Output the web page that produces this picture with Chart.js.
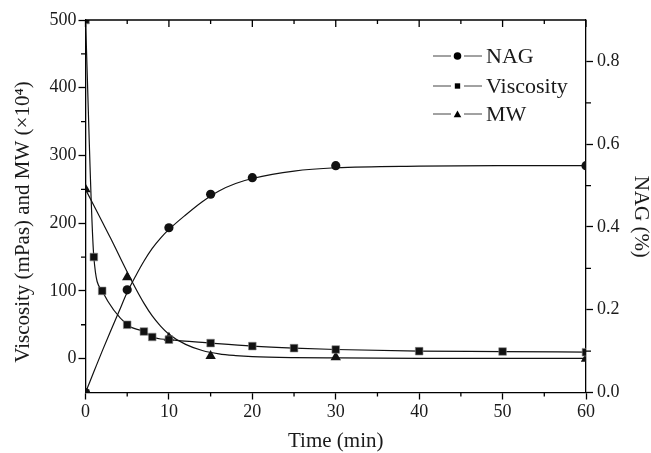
<!DOCTYPE html>
<html>
<head>
<meta charset="utf-8">
<script src="https://cdn.jsdelivr.net/npm/chart.js@4/dist/chart.umd.min.js"></script>
<style>
  html, body { margin: 0; padding: 0; background: #fff; }
  #wrap { width: 651px; height: 453px; position: relative; }
</style>
</head>
<body>
<div id="wrap"><canvas id="c"></canvas></div>
<script>
// ---- data ----
const timeNAG = [0, 5, 10, 15, 20, 30, 60];
const nagValues = [0, 0.248, 0.398, 0.479, 0.519, 0.548, 0.548];

const timeVisc = [0, 1, 2, 5, 7, 8, 10, 15, 20, 25, 30, 40, 50, 60];
const viscValues = [500, 150, 100, 50, 40, 32, 28, 23, 18.5, 15.5, 13.5, 11, 10.5, 9.5];

const timeMW = [0, 5, 10, 15, 30, 60];
const mwValues = [250, 120, 31, 4, 2, 0];

// fitted curves
const nagFitTime = [0, 1, 2, 3, 4, 5, 6, 7, 8, 9, 10, 12, 14, 16, 18, 20, 25, 30, 40, 50, 60];
const nagFitValues = [0, 0.05, 0.1, 0.148, 0.195, 0.242, 0.281, 0.317, 0.348, 0.373, 0.394, 0.429, 0.461, 0.487, 0.505, 0.517, 0.535, 0.543, 0.547, 0.548, 0.548];

const mwFitTime = [0, 1, 2, 3, 4, 5, 6, 7, 8, 9, 10, 12, 14, 16, 18, 20, 25, 30, 40, 60];
const mwFitValues = [250, 226, 202, 178, 153, 128, 104, 82, 63, 48, 36, 21, 12, 7, 4.5, 3, 1.5, 1, 0.5, 0.5];

const xTickLabels = ['0', '10', '20', '30', '40', '50', '60'];
const leftTickLabels = ['0', '100', '200', '300', '400', '500'];
const rightTickLabels = ['0.0', '0.2', '0.4', '0.6', '0.8'];

const seriesNames = ['NAG', 'Viscosity', 'MW'];
const xTitle = 'Time (min)';
const leftTitle = 'Viscosity (mPas) and MW (\u00D710\u2074)';
const rightTitle = 'NAG (%)';

// ---- helpers ----
const zip = (xs, ys) => xs.map((x, i) => ({ x: x, y: ys[i] }));
const FONT = '"Liberation Serif", "Times New Roman", serif';
const INK = '#1a1a1a';

const isMajorX = v => Math.abs(v % 10) < 1e-9;
const isMajorY = v => v >= 0 && Math.abs(v % 100) < 1e-9;
const isMajorY2 = v => { const k = Math.round(v * 10); return k % 2 === 0 && k <= 8; };

function drawMarker(ctx, style, x, y, r) {
  ctx.beginPath();
  if (style === 'circle') {
    ctx.arc(x, y, r, 0, Math.PI * 2);
  } else if (style === 'rect') {
    const s = r * Math.SQRT1_2;
    ctx.rect(x - s, y - s, 2 * s, 2 * s);
  } else if (style === 'triangle') {
    for (let k = 0; k < 3; k++) {
      const a = k * 2 * Math.PI / 3;
      const px = x + Math.sin(a) * r, py = y - Math.cos(a) * r;
      if (k === 0) ctx.moveTo(px, py); else ctx.lineTo(px, py);
    }
    ctx.closePath();
  }
  ctx.fill();
}

const framePlugin = {
  id: 'frame',
  afterDraw(chart) {
    const ctx = chart.ctx, a = chart.chartArea;
    const xs = chart.scales.x, ys = chart.scales.y, y2 = chart.scales.y2;
    ctx.save();
    ctx.strokeStyle = '#000';
    ctx.lineWidth = 1.3;
    ctx.beginPath();
    // top frame line with inward mirrored ticks
    ctx.moveTo(a.left, a.top);
    ctx.lineTo(a.right, a.top);
    xs.ticks.forEach(t => {
      const px = xs.getPixelForValue(t.value);
      const len = isMajorX(t.value) ? 7 : 4;
      ctx.moveTo(px, a.top);
      ctx.lineTo(px, a.top + len);
    });
    // minor outward ticks
    xs.ticks.forEach(t => {
      if (isMajorX(t.value)) return;
      const px = xs.getPixelForValue(t.value);
      ctx.moveTo(px, a.bottom);
      ctx.lineTo(px, a.bottom + 4);
    });
    ys.ticks.forEach(t => {
      if (isMajorY(t.value) || t.value <= -50) return;
      const py = ys.getPixelForValue(t.value);
      ctx.moveTo(a.left, py);
      ctx.lineTo(a.left - 4.5, py);
    });
    y2.ticks.forEach(t => {
      if (isMajorY2(t.value) || t.value > 0.85) return;
      const py = y2.getPixelForValue(t.value);
      ctx.moveTo(a.right, py);
      ctx.lineTo(a.right + 5, py);
    });
    ctx.stroke();

    // legend
    const styles = ['circle', 'rect', 'triangle'];
    const radii = [3.8, 3.8, 4.4];
    const rows = [56, 86, 114];
    ctx.font = '22px ' + FONT;
    ctx.textBaseline = 'middle';
    ctx.textAlign = 'left';
    seriesNames.forEach((name, i) => {
      const y = rows[i];
      ctx.strokeStyle = '#444';
      ctx.lineWidth = 1;
      ctx.beginPath();
      ctx.moveTo(433, y);
      ctx.lineTo(451, y);
      ctx.moveTo(464, y);
      ctx.lineTo(482, y);
      ctx.stroke();
      ctx.fillStyle = '#000';
      drawMarker(ctx, styles[i], 457.5, y + (styles[i] === 'triangle' ? 1 : 0), radii[i]);
      ctx.fillStyle = INK;
      ctx.fillText(name, 486, y + 1);
    });
    ctx.restore();
  }
};

const gridOpts = major => ({
  display: true, drawOnChartArea: false, drawTicks: true, tickLength: 7, tickWidth: 1.3,
  tickColor: c => (c.tick && major(c.tick.value) ? '#000' : 'rgba(0,0,0,0)')
});

const ctx = document.getElementById('c').getContext('2d');
new Chart(ctx, {
  type: 'line',
  data: {
    datasets: [
      { label: 'NAG fit', data: zip(nagFitTime, nagFitValues), yAxisID: 'y2',
        borderColor: '#111', borderWidth: 1.2, pointRadius: 0, cubicInterpolationMode: 'monotone' },
      { label: seriesNames[0], data: zip(timeNAG, nagValues), yAxisID: 'y2', showLine: false,
        pointStyle: 'circle', pointRadius: 4.6, pointBackgroundColor: '#111', pointBorderWidth: 0 },
      { label: seriesNames[1], data: zip(timeVisc, viscValues), yAxisID: 'y',
        borderColor: '#111', borderWidth: 1.2, cubicInterpolationMode: 'monotone',
        pointStyle: 'rect', pointRadius: 5.4, pointBackgroundColor: '#111',
        pointBorderColor: '#888', pointBorderWidth: 0.6 },
      { label: 'MW fit', data: zip(mwFitTime, mwFitValues), yAxisID: 'y',
        borderColor: '#111', borderWidth: 1.2, pointRadius: 0, cubicInterpolationMode: 'monotone' },
      { label: seriesNames[2], data: zip(timeMW, mwValues), yAxisID: 'y', showLine: false,
        pointStyle: 'triangle', pointRadius: 6, pointBackgroundColor: '#111', pointBorderWidth: 0 }
    ]
  },
  options: {
    responsive: true,
    maintainAspectRatio: false,
    animation: false,
    events: [],
    layout: { padding: { top: 20, left: 0, right: 0, bottom: 0 } },
    plugins: { legend: { display: false }, tooltip: { enabled: false } },
    scales: {
      x: {
        type: 'linear', position: 'bottom', min: 0, max: 60,
        afterFit: s => { s.height = 60.5; },
        border: { display: true, color: '#000', width: 1.3 },
        grid: gridOpts(isMajorX),
        ticks: {
          stepSize: 5, padding: 2, color: INK, maxRotation: 0, autoSkip: false,
          font: { family: FONT, size: 18 },
          callback: v => (isMajorX(v) ? xTickLabels[Math.round(v / 10)] : '')
        },
        title: { display: true, text: xTitle, color: INK, font: { family: FONT, size: 21, lineHeight: 1 },
                 padding: { top: 0, bottom: 1.5 } }
      },
      y: {
        type: 'linear', position: 'left', min: -50, max: 500,
        afterFit: s => { s.width = 85.5; },
        border: { display: true, color: '#000', width: 1.3 },
        grid: gridOpts(isMajorY),
        ticks: {
          stepSize: 50, padding: 2, color: INK, autoSkip: false,
          font: { family: FONT, size: 18 },
          callback: v => (isMajorY(v) ? leftTickLabels[Math.round(v / 100)] : '')
        },
        title: { display: true, text: leftTitle + '      ', color: INK, font: { family: FONT, size: 21, lineHeight: 1 },
                 padding: { top: 12.5, bottom: 0 } }
      },
      y2: {
        type: 'linear', position: 'right', min: 0, max: 0.9,
        afterFit: s => { s.width = 65; },
        border: { display: true, color: '#000', width: 1.3 },
        grid: gridOpts(isMajorY2),
        ticks: {
          stepSize: 0.1, padding: 4, color: INK, autoSkip: false,
          font: { family: FONT, size: 18 },
          callback: v => (isMajorY2(v) ? rightTickLabels[Math.round(v * 10) / 2] : '')
        },
        title: { display: true, text: '    ' + rightTitle, color: INK, font: { family: FONT, size: 21, lineHeight: 1 },
                 padding: { top: 0, bottom: 0 } }
      }
    }
  },
  plugins: [framePlugin]
});
</script>
</body>
</html>
